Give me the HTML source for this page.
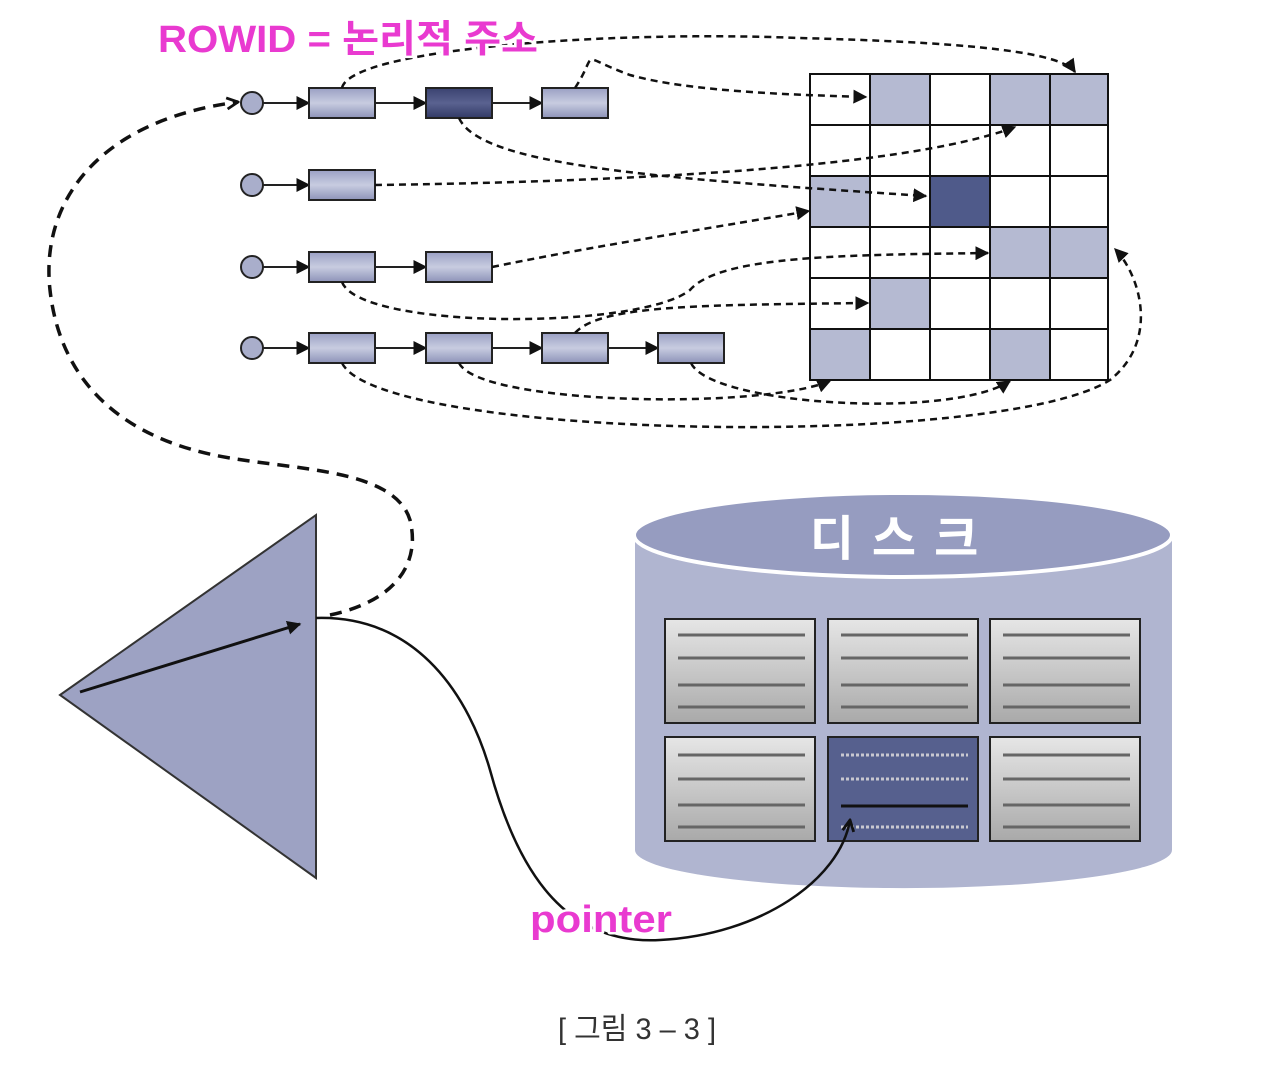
<!DOCTYPE html>
<html><head><meta charset="utf-8"><style>
html,body{margin:0;padding:0;background:#fff}
svg{display:block}
</style></head><body>
<svg width="1274" height="1082" viewBox="0 0 1274 1082" xmlns="http://www.w3.org/2000/svg">
<defs>
<marker id="ah2" viewBox="0 0 10 10" refX="9" refY="5" markerWidth="14" markerHeight="14" orient="auto" markerUnits="userSpaceOnUse"><path d="M0,0 L10,5 L0,10 z" fill="#111"/></marker>
<marker id="op" viewBox="0 0 10 10" refX="9" refY="5" markerWidth="14" markerHeight="14" orient="auto" markerUnits="userSpaceOnUse"><path d="M1,1 L9,5 L1,9" fill="none" stroke="#111" stroke-width="2"/></marker>
<linearGradient id="bx" x1="0" y1="0" x2="0" y2="1"><stop offset="0" stop-color="#9aa0c4"/><stop offset="0.5" stop-color="#c8cce0"/><stop offset="1" stop-color="#8d93b8"/></linearGradient>
<linearGradient id="dk" x1="0" y1="0" x2="0" y2="1"><stop offset="0" stop-color="#3a4270"/><stop offset="0.5" stop-color="#5a6290"/><stop offset="1" stop-color="#323a66"/></linearGradient>
<linearGradient id="pg" x1="0" y1="0" x2="0" y2="1"><stop offset="0" stop-color="#e6e6e6"/><stop offset="1" stop-color="#a9a9a9"/></linearGradient>
</defs>

<g stroke="#111" stroke-width="2">
<rect x="870" y="74" width="60" height="51" fill="#b5bad2"/>
<rect x="990" y="74" width="60" height="51" fill="#b5bad2"/>
<rect x="1050" y="74" width="58" height="51" fill="#b5bad2"/>
<rect x="810" y="176" width="60" height="51" fill="#b5bad2"/>
<rect x="930" y="176" width="60" height="51" fill="#4f5a8a"/>
<rect x="990" y="227" width="60" height="51" fill="#b5bad2"/>
<rect x="1050" y="227" width="58" height="51" fill="#b5bad2"/>
<rect x="870" y="278" width="60" height="51" fill="#b5bad2"/>
<rect x="810" y="329" width="60" height="51" fill="#b5bad2"/>
<rect x="990" y="329" width="60" height="51" fill="#b5bad2"/>
<rect x="810" y="74" width="298" height="306" fill="none"/>
<path d="M870,74V380M930,74V380M990,74V380M1050,74V380M810,125H1108M810,176H1108M810,227H1108M810,278H1108M810,329H1108" fill="none"/>
</g>

<g stroke="#222" stroke-width="2">
<g fill="#a9aecb"><circle cx="252" cy="103" r="11"/><circle cx="252" cy="185" r="11"/><circle cx="252" cy="267" r="11"/><circle cx="252" cy="348" r="11"/></g>
<g marker-end="url(#ah2)">
<line x1="263" y1="103" x2="309" y2="103"/><line x1="375" y1="103" x2="426" y2="103"/><line x1="492" y1="103" x2="542" y2="103"/>
<line x1="263" y1="185" x2="309" y2="185"/>
<line x1="263" y1="267" x2="309" y2="267"/><line x1="375" y1="267" x2="426" y2="267"/>
<line x1="263" y1="348" x2="309" y2="348"/><line x1="375" y1="348" x2="426" y2="348"/><line x1="492" y1="348" x2="542" y2="348"/><line x1="608" y1="348" x2="658" y2="348"/>
</g>
<g fill="url(#bx)">
<rect x="309" y="88" width="66" height="30"/><rect x="542" y="88" width="66" height="30"/>
<rect x="309" y="170" width="66" height="30"/>
<rect x="309" y="252" width="66" height="30"/><rect x="426" y="252" width="66" height="30"/>
<rect x="309" y="333" width="66" height="30"/><rect x="426" y="333" width="66" height="30"/><rect x="542" y="333" width="66" height="30"/><rect x="658" y="333" width="66" height="30"/>
</g>
<rect x="426" y="88" width="66" height="30" fill="url(#dk)"/>
</g>

<g fill="none" stroke="#111" stroke-width="2.5" stroke-dasharray="7,5" marker-end="url(#ah2)">
<path d="M342,88 C350,50 600,30 800,38 C950,42 1060,50 1075,72"/>
<path d="M575,88 C600,50 575,55 630,75 C690,92 800,95 866,97"/>
<path d="M459,118 C480,165 650,178 926,196"/>
<path d="M375,185 C600,182 900,170 1015,127"/>
<path d="M492,267 C600,245 700,230 809,211"/>
<path d="M342,282 C360,330 640,330 690,290 C720,255 850,255 988,253"/>
<path d="M575,333 C600,305 700,305 868,303"/>
<path d="M342,363 C380,440 1000,450 1110,380 C1160,340 1140,275 1115,249"/>
<path d="M459,363 C480,405 760,410 830,381"/>
<path d="M691,363 C710,405 950,420 1010,381"/>
</g>
<path d="M330,615 C400,600 420,560 410,520 C395,470 300,470 230,458 C120,440 60,380 50,290 C40,200 100,120 238,102" fill="none" stroke="#111" stroke-width="3.5" stroke-dasharray="12,8" marker-end="url(#op)"/>

<path d="M635,535 L635,850 A268,38 0 0 0 1172,850 L1172,535 Z" fill="#b0b5d0"/>
<ellipse cx="903" cy="535" rx="269" ry="42" fill="#969cc0" stroke="#fff" stroke-width="4"/>
<text x="903" y="555" text-anchor="middle" font-family="'Liberation Sans','Noto Sans CJK KR',sans-serif" font-size="48" font-weight="bold" fill="#fff" letter-spacing="18">디스크</text>
<g stroke="#222" stroke-width="2">
<rect x="665" y="619" width="150" height="104" fill="url(#pg)"/>
<rect x="828" y="619" width="150" height="104" fill="url(#pg)"/>
<rect x="990" y="619" width="150" height="104" fill="url(#pg)"/>
<rect x="665" y="737" width="150" height="104" fill="url(#pg)"/>
<rect x="828" y="737" width="150" height="104" fill="#56608e"/>
<rect x="990" y="737" width="150" height="104" fill="url(#pg)"/>
</g>
<g stroke="#666" stroke-width="3">
<path d="M678,635H805M678,658H805M678,685H805M678,707H805"/>
<path d="M841,635H968M841,658H968M841,685H968M841,707H968"/>
<path d="M1003,635H1130M1003,658H1130M1003,685H1130M1003,707H1130"/>
<path d="M678,755H805M678,779H805M678,805H805M678,827H805"/>
<path d="M1003,755H1130M1003,779H1130M1003,805H1130M1003,827H1130"/>
</g>
<path d="M841,755H968M841,779H968M841,827H968" stroke="#c8c8d0" stroke-width="3" stroke-dasharray="3,2"/>
<path d="M841,806H968" stroke="#111" stroke-width="3"/>

<polygon points="60,695 316,515 316,878" fill="#9da2c3" stroke="#333" stroke-width="2"/>
<line x1="80" y1="692" x2="300" y2="624" stroke="#111" stroke-width="3" marker-end="url(#ah2)"/>

<path d="M316,618 C420,615 470,700 490,770 C520,880 570,945 660,940 C760,935 840,880 850,820" fill="none" stroke="#111" stroke-width="2.5" marker-end="url(#op)"/>

<g font-family="'Liberation Sans','Noto Sans CJK KR',sans-serif" font-weight="bold" fill="#e93ad0" stroke="#fff" stroke-width="5" paint-order="stroke" stroke-linejoin="round">
<text x="158" y="52" font-size="38" textLength="380" lengthAdjust="spacingAndGlyphs">ROWID = 논리적 주소</text>
<text x="530" y="932" font-size="38" textLength="142" lengthAdjust="spacingAndGlyphs">pointer</text>
</g>
<text x="558" y="1039" font-family="'Liberation Sans','Noto Sans CJK KR',sans-serif" font-size="30" fill="#333" textLength="158" lengthAdjust="spacingAndGlyphs">[ 그림 3 – 3 ]</text>
</svg>
</body></html>
